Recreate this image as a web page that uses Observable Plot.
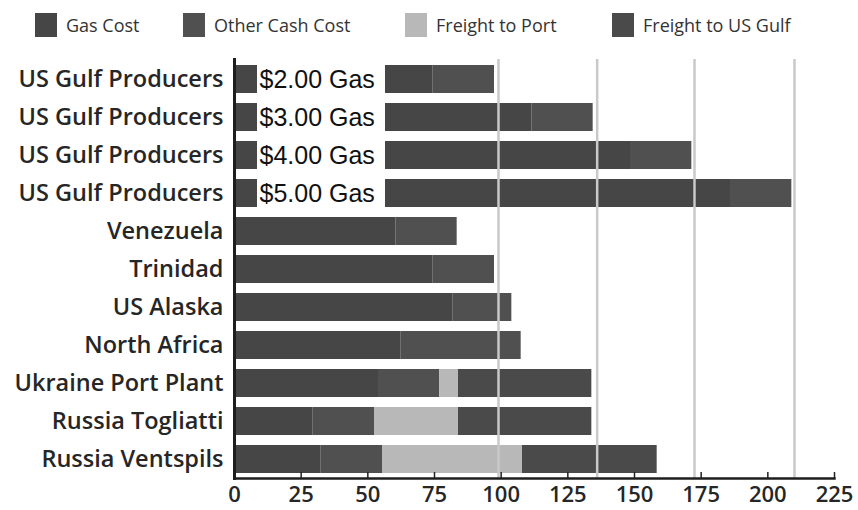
<!DOCTYPE html>
<html>
<head>
<meta charset="utf-8">
<script src="https://cdn.jsdelivr.net/npm/d3@7"></script>
<script src="https://cdn.jsdelivr.net/npm/@observablehq/plot@0.6"></script>
<style>
  body { margin: 0; background: #fff; font-family: "Open Sans", sans-serif; overflow: hidden; }
  #legend { position: relative; height: 50px; width: 858px; }
  .item { position: absolute; top: 13px; display: flex; align-items: center; font-size: 18px; font-weight: 500; color: #333; }
  .sw { width: 22px; height: 24px; margin-right: 9px; }
  #chart svg { display: block; }
</style>
</head>
<body>
<div id="legend"></div>
<div id="chart"></div>
<script>
// ---- data ----
const rowLabels = [
  "US Gulf Producers", "US Gulf Producers", "US Gulf Producers", "US Gulf Producers",
  "Venezuela", "Trinidad", "US Alaska", "North Africa",
  "Ukraine Port Plant", "Russia Togliatti", "Russia Ventspils"
];
const gasCost         = [74.5, 111.5, 148.5, 186, 60.5, 74.5, 82, 62.5, 54, 29.5, 32.5];
const otherCashCost   = [23, 23, 23, 23, 23, 23, 22, 45, 23, 23, 23];
const freightToPort   = [0, 0, 0, 0, 0, 0, 0, 0, 7, 31.5, 52.5];
const freightToUSGulf = [0, 0, 0, 0, 0, 0, 0, 0, 50, 50, 50.5];
const gulfGasLabels   = ["$2.00 Gas", "$3.00 Gas", "$4.00 Gas", "$5.00 Gas"];
const gulfBenchmarks  = [99, 136, 172.5, 210];
const xTicks = [0, 25, 50, 75, 100, 125, 150, 175, 200, 225];
const seriesNames  = ["Gas Cost", "Other Cash Cost", "Freight to Port", "Freight to US Gulf"];
const seriesColors = ["#464646", "#505050", "#b8b8b8", "#4a4a4a"];

// ---- table for the library ----
const seriesValues = [gasCost, otherCashCost, freightToPort, freightToUSGulf];
const table = [];
rowLabels.forEach((_, i) => {
  seriesNames.forEach((s, k) => table.push({row: i, series: s, value: seriesValues[k][i]}));
});

// ---- legend ----
const legendLeft = [35, 183, 405, 612];
const legend = d3.select("#legend");
seriesNames.forEach((s, k) => {
  const it = legend.append("div").attr("class", "item").style("left", legendLeft[k] + "px");
  it.append("div").attr("class", "sw").style("background", seriesColors[k]);
  it.append("span").text(s);
});

// ---- chart ----
const plot = Plot.plot({
  width: 858,
  height: 460,
  marginTop: 9,
  marginBottom: 32,
  marginLeft: 234,
  marginRight: 24,
  style: {fontFamily: "Open Sans, sans-serif", background: "#fff"},
  x: {domain: [0, 225], label: null},
  y: {domain: d3.range(rowLabels.length), paddingInner: 0.27, paddingOuter: 0.1, label: null},
  color: {domain: seriesNames, range: seriesColors},
  marks: [
    Plot.barX(table, {y: "row", x: "value", fill: "series", z: "series", order: seriesNames}),
    Plot.ruleX(gulfBenchmarks, {stroke: "#c9c9c9", strokeWidth: 2.5}),
    // white label boxes at the start of the US Gulf bars (pixel insets only)
    Plot.barX(gulfGasLabels, {y: (d, i) => i, x1: () => 0, x2: () => 0,
      insetLeft: 23, insetRight: -151, fill: "#fff"}),
    Plot.text(gulfGasLabels, {
      y: (d, i) => i, text: d => d, frameAnchor: "left", textAnchor: "start", dx: 25,
      fontFamily: "Liberation Sans, Arial, sans-serif", fontSize: 25, fill: "#111"
    }),
    Plot.axisY({tickSize: 0, tickPadding: 11, tickFormat: i => rowLabels[i], label: null,
      fontSize: 23.5, fontWeight: 600, fill: "#262626"}),
    Plot.axisX({ticks: xTicks, tickSize: 0, tickPadding: 8, label: null,
      fontSize: 22, fontWeight: 600, fill: "#262626"}),
    Plot.axisX({ticks: xTicks, tickSize: 6, dy: -6, tickFormat: () => "", label: null,
      stroke: "#222", strokeWidth: 1.5}),
    Plot.frame({anchor: "bottom", stroke: "#1e1e1e", strokeWidth: 2.5}),
    Plot.frame({anchor: "left", stroke: "#1e1e1e", strokeWidth: 3})
  ]
});
document.getElementById("chart").appendChild(plot);
</script>
</body>
</html>
